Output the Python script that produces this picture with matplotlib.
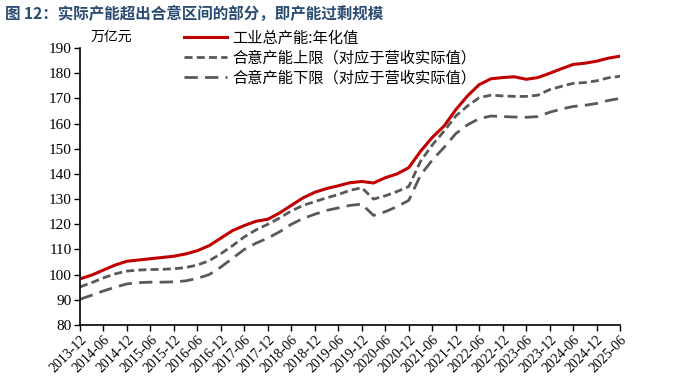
import matplotlib
matplotlib.use("Agg")
import matplotlib.pyplot as plt
from matplotlib.lines import Line2D

# 季度数据（2013-12 至 2025-06），单位：万亿元
dates = ["2013-12", "2014-03", "2014-06", "2014-09", "2014-12", "2015-03", "2015-06", "2015-09",
         "2015-12", "2016-03", "2016-06", "2016-09", "2016-12", "2017-03", "2017-06", "2017-09",
         "2017-12", "2018-03", "2018-06", "2018-09", "2018-12", "2019-03", "2019-06", "2019-09",
         "2019-12", "2020-03", "2020-06", "2020-09", "2020-12", "2021-03", "2021-06", "2021-09",
         "2021-12", "2022-03", "2022-06", "2022-09", "2022-12", "2023-03", "2023-06", "2023-09",
         "2023-12", "2024-03", "2024-06", "2024-09", "2024-12", "2025-03", "2025-06"]

total_capacity = [98.3, 99.8, 101.8, 103.8, 105.3, 105.8, 106.3, 106.8,
                  107.3, 108.2, 109.5, 111.5, 114.5, 117.5, 119.5, 121.2,
                  122.0, 124.5, 127.5, 130.5, 132.7, 134.2, 135.3, 136.5,
                  137.0, 136.4, 138.5, 140.0, 142.5, 149.0, 154.5, 159.0,
                  165.5, 171.0, 175.5, 177.8, 178.3, 178.6, 177.6, 178.3,
                  180.0, 181.8, 183.5, 184.0, 184.8, 186.0, 186.8]

upper_bound = [95.1, 96.8, 98.7, 100.3, 101.4, 101.8, 102.0, 102.1,
               102.3, 102.8, 103.8, 105.5, 108.3, 111.5, 115.0, 117.8,
               120.0, 122.5, 125.3, 127.5, 129.0, 130.5, 131.8, 133.5,
               134.5, 130.0, 131.3, 133.0, 135.0, 145.0, 151.5, 157.0,
               163.0, 167.0, 170.3, 171.3, 171.0, 170.8, 170.8, 171.3,
               173.5, 174.8, 176.0, 176.3, 177.0, 178.2, 178.8]

lower_bound = [90.2, 91.8, 93.5, 95.0, 96.3, 96.8, 97.0, 97.0,
               97.1, 97.5, 98.5, 100.0, 103.0, 106.5, 110.0, 112.5,
               114.5, 117.0, 120.0, 122.3, 124.0, 125.5, 126.5, 127.5,
               128.0, 123.5, 125.0, 127.0, 129.5, 139.5, 145.5, 150.5,
               156.0, 159.5, 162.0, 163.0, 162.8, 162.6, 162.5, 162.8,
               164.5, 165.8, 166.8, 167.3, 168.0, 169.2, 170.0]

tick_labels = ["2013-12", "2014-06", "2014-12", "2015-06", "2015-12", "2016-06", "2016-12",
               "2017-06", "2017-12", "2018-06", "2018-12", "2019-06", "2019-12", "2020-06",
               "2020-12", "2021-06", "2021-12", "2022-06", "2022-12", "2023-06", "2023-12",
               "2024-06", "2024-12", "2025-06"]

labels = ["工业总产能:年化值", "合意产能上限（对应于营收实际值）", "合意产能下限（对应于营收实际值）"]

serif_cjk = ["Liberation Serif", "Noto Sans CJK SC"]
plt.rcParams["font.family"] = serif_cjk


def month_index(d):
    y, m = d.split("-")
    return (int(y) - 2013) * 12 + int(m) - 12


x = [month_index(d) for d in dates]
xt = [month_index(d) for d in tick_labels]

fig = plt.figure(figsize=(6.8, 3.91), dpi=100)
ax = fig.add_axes([0.1176, 0.169, 0.7944, 0.708])

ax.plot(x, total_capacity, color="#C00000", linewidth=2.2, solid_capstyle="butt")
ax.plot(x, upper_bound, color="#595959", linewidth=2.0, dashes=(2.9, 1.5))
ax.plot(x, lower_bound, color="#595959", linewidth=2.0, dashes=(4.8, 2.6))

ax.set_xlim(0, xt[-1])
ax.set_ylim(80, 190)
ax.set_yticks(range(80, 191, 10))
ax.set_xticks(xt)
ax.set_xticklabels(tick_labels, rotation=45, ha="right", rotation_mode="anchor")
ax.tick_params(axis="x", labelsize=10, length=4, width=1, direction="out", pad=2)
ax.tick_params(axis="y", labelsize=11, length=4, width=1, direction="out", pad=2)

for s in ["top", "right"]:
    ax.spines[s].set_visible(False)
for s in ["left", "bottom"]:
    ax.spines[s].set_linewidth(1.2)
    ax.spines[s].set_color("black")

fig.text(0.008, 0.965, "图 12：实际产能超出合意区间的部分，即产能过剩规模",
         fontsize=11.2, fontweight="bold", color="#2B4C72",
         family=["Noto Sans CJK SC"], va="center", ha="left")
fig.text(0.133, 0.905, "万亿元", fontsize=10, family=["Noto Sans CJK SC"],
         va="center", ha="left")

handles = [
    Line2D([], [], color="#C00000", linewidth=2.2),
    Line2D([], [], color="#595959", linewidth=2.0, dashes=(2.9, 1.5)),
    Line2D([], [], color="#595959", linewidth=2.0, dashes=(4.8, 2.6)),
]
fig.legend(handles, labels, loc="upper left", bbox_to_anchor=(0.262, 0.94),
           frameon=False, handlelength=2.8, handletextpad=0.35,
           labelspacing=0.2, borderaxespad=0.0,
           prop={"family": ["Noto Sans CJK SC"], "size": 11})

fig.savefig("out.png", dpi=100)
